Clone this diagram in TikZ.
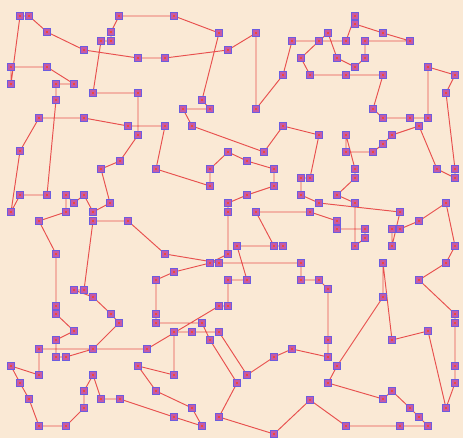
\documentclass[tikz,border=0pt]{standalone}
\definecolor{bg}{HTML}{FAE9D5}
\definecolor{edgecol}{HTML}{E8504E}
\definecolor{nodeborder}{HTML}{6C5CE0}
\definecolor{nodefill}{HTML}{C65AA6}
\definecolor{nodecore}{HTML}{EE4A3A}
\tikzset{
  tour/.style={draw=edgecol, line width=0.95pt, line join=round},
  city/.style={rectangle, draw=nodeborder, fill=nodefill, line width=1.2pt, minimum size=6.5pt, inner sep=0pt,
    path picture={\fill[nodecore] ([shift={(-1.4pt,-1.4pt)}]path picture bounding box.center) rectangle ([shift={(1.4pt,1.4pt)}]path picture bounding box.center);}}
}
\begin{document}
\begin{tikzpicture}[x=1pt,y=-1pt]
\fill[bg] (0,0) rectangle (463,438);
\useasboundingbox (0,0) rectangle (463,438);
\foreach \x/\y [count=\i] in {
228/212,228/254,210/263,174/272,156/280,156/314,156/323,202/323,210/340,237/383,
219/417,274/434,310/400,346/426,400/426,428/426,419/417,410/408,392/391,383/399,
328/383,337/366,383/297,383/263,392/340,428/331,446/408,455/383,455/366,455/323,
455/314,419/280,446/263,455/246,446/203,419/221,400/229,392/229,392/246,400/212,
319/203,301/195,301/178,310/178,319/135,283/126,264/152,192/126,183/109,210/109,
202/100,219/33,174/16,119/16,111/32,111/41,101/41,93/93,138/93,138/135,
120/161,101/169,110/203,93/212,84/195,74/203,66/195,66/212,39/221,56/254,
56/306,56/314,74/331,56/340,56/357,66/357,93/349,119/323,111/314,93/297,
74/290,84/290,93/221,128/221,165/254,219/263,301/263,301/280,319/280,328/289,
328/340,328/357,292/349,274/357,247/375,219/332,192/332,174/332,174/375,138/366,
156/391,192/408,202/426,174/417,120/399,101/399,93/375,84/391,84/408,66/426,
39/426,29/399,20/383,11/366,39/375,39/349,147/349,219/306,228/306,228/280,
247/280,237/246,283/246,274/246,256/212,310/212,337/221,337/229,365/229,365/238,
355/246,355/203,337/195,355/178,355/169,346/135,346/152,373/152,383/144,392/135,
419/126,437/169,455/178,455/169,446/93,455/75,428/67,428/118,410/118,383/118,
373/109,383/75,346/75,310/75,301/58,319/41,328/33,337/58,355/67,365/58,
365/41,410/41,383/33,355/24,355/16,346/41,292/41,283/75,256/109,256/33,
228/50,165/58,138/58,84/50,47/32,29/16,20/16,11/84,11/67,47/67,
74/84,56/84,56/100,47/195,20/195,11/212,20/151,39/118,84/118,128/126,
165/126,156/169,210/186,210/169,228/152,247/161,274/169,274/186,247/195,228/203}
  {\coordinate (c\i) at (\x,\y);}
\draw[tour] (c1) \foreach \i in {2,...,200} {-- (c\i)} -- cycle;
\foreach \i in {1,...,200} {\node[city] (n\i) at (c\i) {};}
\end{tikzpicture}
\end{document}
